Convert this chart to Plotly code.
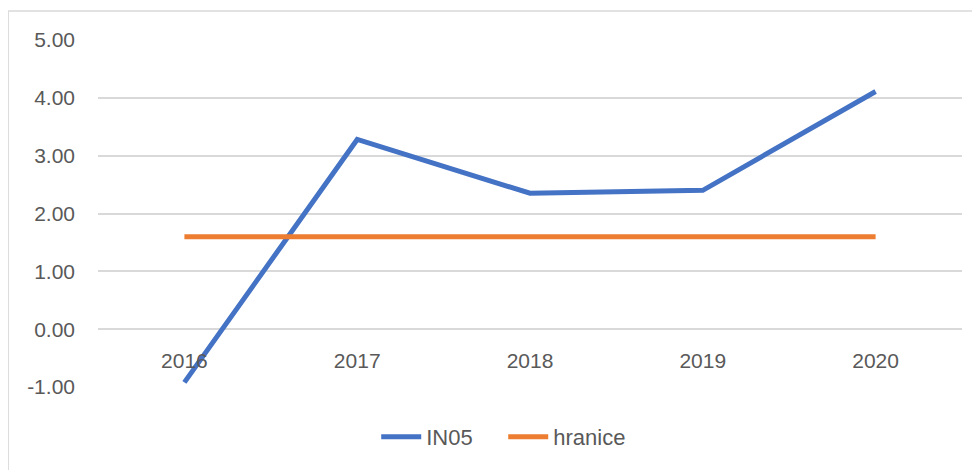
import plotly.graph_objects as go

years = ["2016", "2017", "2018", "2019", "2020"]
in05 = [-0.92, 3.28, 2.35, 2.40, 4.11]
hranice = [1.60, 1.60, 1.60, 1.60, 1.60]
y_ticks = [-1, 0, 1, 2, 3, 4, 5]
y_labels = ["-1.00", "0.00", "1.00", "2.00", "3.00", "4.00", "5.00"]

FONT = "Liberation Sans"
TXT = "#595959"

fig = go.Figure()
fig.add_trace(go.Scatter(x=years, y=in05, mode="lines", name="IN05",
                         line=dict(color="#4472C4", width=5)))
fig.add_trace(go.Scatter(x=years, y=hranice, mode="lines", name="hranice",
                         line=dict(color="#ED7D31", width=5)))

# chart border (top and left edges visible)
fig.add_shape(type="line", xref="paper", yref="paper", x0=-0.104, x1=1.1, y0=1.0836, y1=1.0836,
              line=dict(color="#d9d9d9", width=1.5), layer="below")
fig.add_shape(type="line", xref="paper", yref="paper", x0=-0.104, x1=-0.104, y0=-0.25, y1=1.0836,
              line=dict(color="#d9d9d9", width=1.5), layer="below")

fig.update_layout(
    width=972, height=462,
    margin=dict(l=90, r=18, t=32, b=83),
    paper_bgcolor="white", plot_bgcolor="white",
    font=dict(family=FONT, size=21, color=TXT),
    showlegend=True,
    legend=dict(orientation="h", x=0.469, y=-0.144, xanchor="center", yanchor="middle",
                font=dict(family=FONT, size=22, color=TXT), itemwidth=40,
                entrywidth=72, entrywidthmode="pixels"),
    xaxis=dict(type="category", range=[-0.5, 4.5], showgrid=False, showline=False,
               zeroline=False, ticks="", anchor="free", position=1/6,
               ticklabelstandoff=17, tickfont=dict(family=FONT, size=21, color=TXT)),
    yaxis=dict(range=[-1, 5], tickvals=y_ticks, ticktext=y_labels, showgrid=True,
               gridcolor="#d9d9d9", gridwidth=1.5, zeroline=True, zerolinecolor="#d9d9d9",
               zerolinewidth=1.5, showline=False, ticks="", ticklabelstandoff=22,
               tickfont=dict(family=FONT, size=21, color=TXT)),
)

fig.write_html("out.html")
